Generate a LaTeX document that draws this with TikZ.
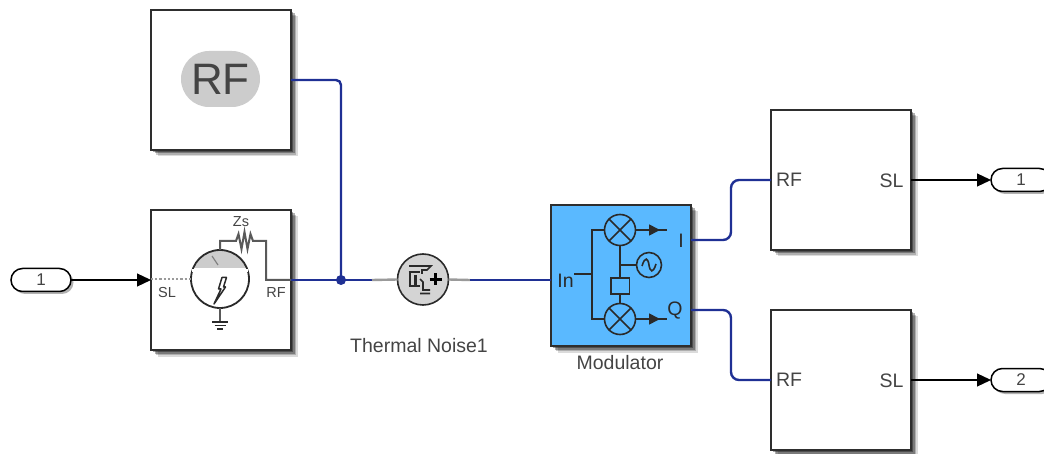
\documentclass[tikz,border=0pt]{standalone}
\usepackage{fontspec}
\setmainfont{Liberation Sans}
\usetikzlibrary{arrows.meta,shadows,shapes.misc,calc}
\definecolor{wireblue}{HTML}{1F3094}
\definecolor{blockedge}{HTML}{2E2E2E}
\definecolor{stubgray}{HTML}{9A9A9A}
\definecolor{iconink}{HTML}{2A2A2A}
\definecolor{labelgray}{HTML}{444444}
\definecolor{modblue}{HTML}{5AB9FF}
\tikzset{
  softshadow/.style={
    drop shadow={shadow xshift=6.5pt,shadow yshift=-6.5pt,opacity=.14,fill=black},
    drop shadow={shadow xshift=5pt,shadow yshift=-5pt,opacity=.20,fill=black},
    drop shadow={shadow xshift=3.5pt,shadow yshift=-3.5pt,opacity=.30,fill=black},
    drop shadow={shadow xshift=2pt,shadow yshift=-2pt,opacity=.35,fill=black}},
  blockbox/.style={draw=blockedge,line width=2pt,fill=white,minimum width=140pt,minimum height=140pt,inner sep=0pt,outer sep=0pt,softshadow},
  portbox/.style={draw=black,line width=1.5pt,fill=white,rounded rectangle,minimum width=60pt,minimum height=23pt,inner sep=0pt,outer sep=0pt,font=\fontsize{17}{17}\selectfont,text=labelgray,drop shadow={shadow xshift=2.5pt,shadow yshift=-2.5pt,opacity=.3,fill=black}},
  wire/.style={draw=wireblue,line width=2.4pt,rounded corners=5pt},
  stub/.style={draw=stubgray,line width=2.4pt},
  signal/.style={draw=black,line width=1.2pt,-{Triangle[length=14pt,width=13pt]}},
  ink/.style={draw=iconink,line width=1.6pt},
  portlabel/.style={font=\fontsize{19.5}{19.5}\selectfont,text=labelgray,inner sep=0pt},
  smalllabel/.style={font=\fontsize{14.5}{14.5}\selectfont,text=labelgray,inner sep=0pt},
  caption/.style={font=\fontsize{19.5}{19.5}\selectfont,text=labelgray,inner sep=0pt},
  outarrow/.style={draw=iconink,line width=1.6pt,-{Triangle[length=11pt,width=11pt]}}
}
\begin{document}
\begin{tikzpicture}[x=1pt,y=-1pt]
\useasboundingbox (0,0) rectangle (1044,454);
% blocks
\node[blockbox] (rfblock) at (221,80) {};
\node[blockbox] (source) at (221,280) {};
\node[blockbox,fill=modblue,minimum height=141pt] (modulator) at (621,275.5) {};
\node[blockbox] (upper) at (841,180) {};
\node[blockbox] (lower) at (841,380) {};
\node[portbox] (inport) at (41,280) {1};
\node[portbox] (outone) at (1021,180) {1};
\node[portbox] (outtwo) at (1021,380) {2};
% RF badge
\node[fill=black!20,rounded rectangle,minimum width=79pt,minimum height=56pt,inner sep=0pt,text=labelgray,font=\fontsize{44}{44}\selectfont] (rfbadge) at (220.5,79) {RF};
% thermal noise
\node[circle,draw=iconink,line width=1.6pt,fill=black!17,minimum size=51pt,inner sep=0pt,outer sep=0pt] (noise) at (423,279.5) {};
\node[caption] (noisecap) at (419,346) {Thermal Noise1};
% named wiring points
\coordinate (junction) at (341,280);
\coordinate (stubleft) at (372,280);
\coordinate (stubright) at (470,280);
\coordinate (modin) at (modulator.west |- 0,280);
\coordinate (modI) at (modulator.east |- 0,240);
\coordinate (modQ) at (modulator.east |- 0,310);
% wires
\draw[wire] (rfblock.east) -- (341,80) -- (junction);
\draw[wire] (source.east) -- (stubleft);
\draw[stub] (stubleft) -- (noise.west);
\draw[stub] (noise.east) -- (stubright);
\draw[wire] (stubright) -- (modin);
\fill[wireblue] (junction) circle (5);
\draw[wire,rounded corners=8pt] (modI) -- (731,240) -- (731,180) -- (upper.west);
\draw[wire,rounded corners=8pt] (modQ) -- (731,310) -- (731,380) -- (lower.west);
% signal arrows
\draw[signal] (inport.east) -- (source.west);
\draw[signal] (upper.east) -- (outone.west);
\draw[signal] (lower.east) -- (outtwo.west);
% source icon
\begin{scope}
 \begin{scope}
  \clip (220,279) circle (29);
  \fill[black!20] (190,249) rectangle (250,268);
 \end{scope}
 \draw[ink,line width=1.8pt] (220,279) circle (29);
 \draw[draw=white,line width=3pt] (192,271) -- (248,271);
 \draw[draw=gray,line width=1.2pt] (212,256) -- (218,265);
 \draw[ink,draw=black!65,line width=2pt] (220,250) -- (220,241) -- (236,241) -- (238.5,234) -- (241.5,249) -- (244.5,232) -- (247.5,249) -- (250.5,234) -- (253,241) -- (266,241) -- (266,280) -- (291,280);
 \draw[draw=stubgray,line width=2.2pt,dotted] (151,279) -- (191,279);
 \draw[ink,draw=black!65,line width=2pt] (220,308) -- (220,322);
 \draw[ink] (212,322) -- (228,322) (214.5,325.5) -- (225.5,325.5) (217,329) -- (223,329);
 \draw[iconink,line width=1.5pt,line join=round] (214,304) -- (221,289) -- (218.5,289) -- (222,277.5) -- (226.5,277.5) -- (223.5,287) -- (225.5,287) -- cycle;
 \node[smalllabel] (zslabel) at (241,222) {Zs};
 \node[smalllabel] (sllabel) at (167,293) {SL};
 \node[smalllabel] (rflabel) at (276,293) {RF};
\end{scope}
% noise icon
\begin{scope}
 \draw[iconink,line width=1.6pt] (409,266) -- (431,266) -- (427,270) -- (422,270) -- (422,274);
 \draw[iconink,line width=1.8pt] (408.5,272) -- (420,272) (408.5,286) -- (420,286);
 \draw[iconink,line width=2.8pt] (410,273) -- (410,287) (415.5,275) -- (415.5,285);
 \draw[iconink,line width=1.6pt] (420,279) -- (423,282) -- (423,290) -- (430,290) (420,293.5) -- (430,293.5);
 \draw[black,line width=2.6pt] (429.5,279.5) -- (441.5,279.5) (435.5,273.5) -- (435.5,285.5);
\end{scope}
% modulator icon
\begin{scope}
 \coordinate (mixa) at (620,230);
 \coordinate (mixb) at (620,319);
 \coordinate (osc) at (649,265);
 \draw[ink] (mixa) circle (15.5);
 \draw[ink] (mixb) circle (15.5);
 \draw[ink] ($(mixa)+(-11,-11)$) -- ($(mixa)+(11,11)$) ($(mixa)+(-11,11)$) -- ($(mixa)+(11,-11)$);
 \draw[ink] ($(mixb)+(-11,-11)$) -- ($(mixb)+(11,11)$) ($(mixb)+(-11,11)$) -- ($(mixb)+(11,-11)$);
 \draw[ink] (osc) circle (12.5);
 \draw[ink] (642,266) .. controls (645,256) and (648,258) .. (649,265) .. controls (650,272) and (653,274) .. (656,264);
 \draw[ink] (620,245.5) -- (620,278) (620,265) -- (636.5,265) (620,294) -- (620,303.5);
 \draw[ink] (611,278) rectangle (629.5,294);
 \draw[ink] (604.5,230) -- (592,230) -- (592,319) -- (604.5,319) (574,274) -- (592,274);
 \draw[outarrow] (635.5,230) -- (660,230);
 \draw[ink] (658,230) -- (667,230);
 \draw[outarrow] (635.5,319) -- (660,319);
 \draw[ink] (658,319) -- (667,319);
 \node[portlabel,text=iconink] (inlabel) at (565.5,281) {In};
 \node[portlabel,text=iconink] (ilabel) at (681,241) {I};
 \node[portlabel,text=iconink] (qlabel) at (675,311) {Q};
 \node[caption] (modcap) at (620,363) {Modulator};
\end{scope}
% port labels on subsystems
\node[portlabel] (upperrf) at (789,180) {RF};
\node[portlabel] (uppersl) at (891.5,181) {SL};
\node[portlabel] (lowerrf) at (789,380) {RF};
\node[portlabel] (lowersl) at (891.5,381) {SL};
\end{tikzpicture}
\end{document}
